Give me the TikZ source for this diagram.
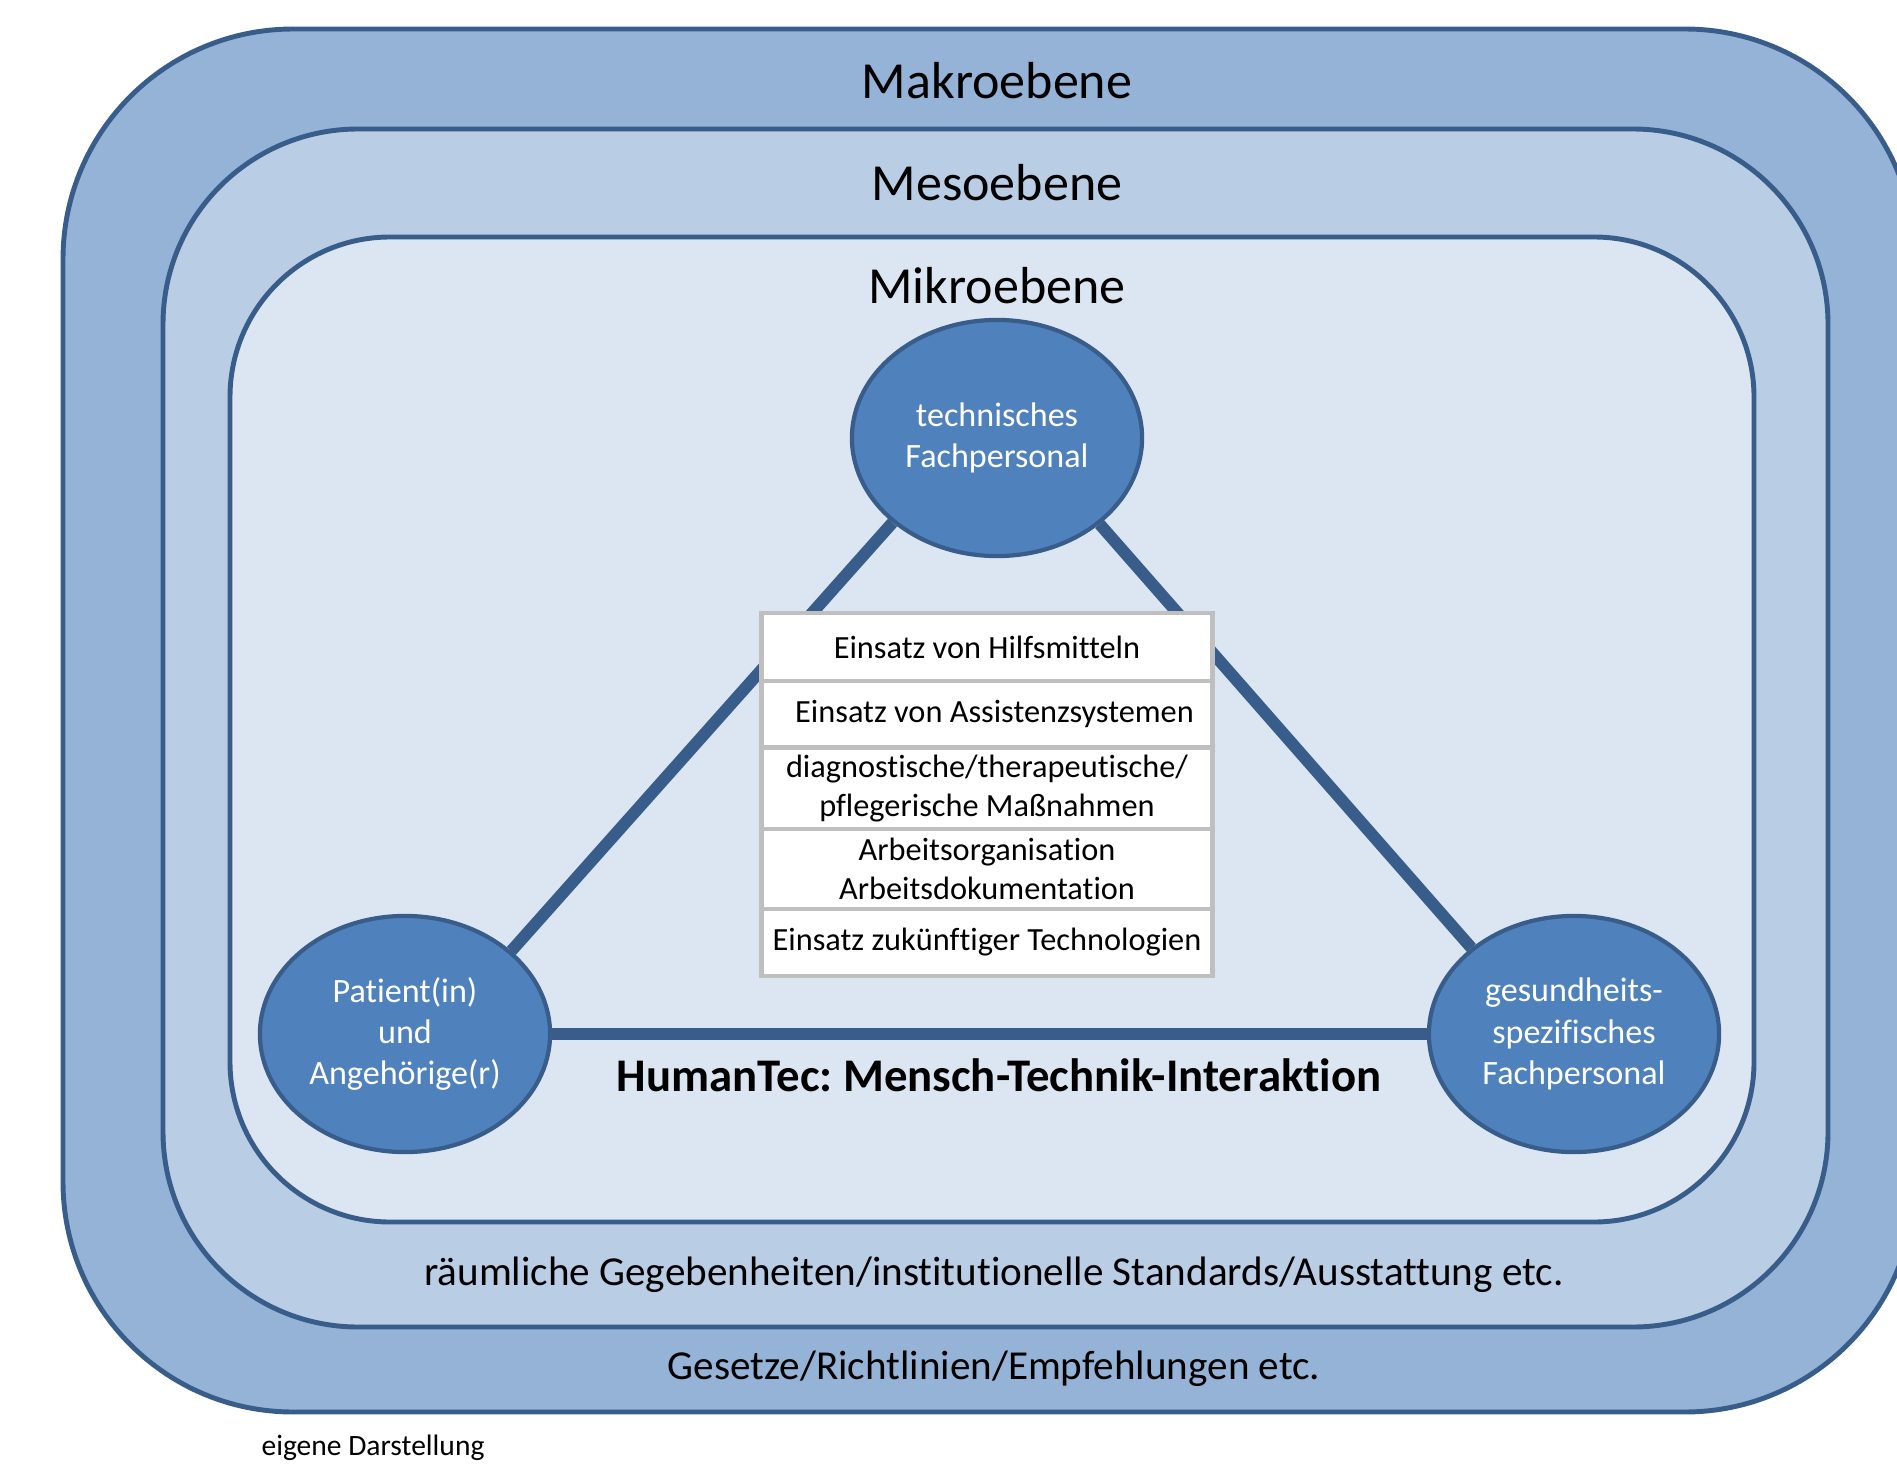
\documentclass[tikz,border=0pt]{standalone}
\usepackage{fontspec}
\setmainfont{Carlito}[Ligatures=NoCommon]
\usetikzlibrary{shapes.geometric}
\frenchspacing

\definecolor{rimblue}{HTML}{385D8A}
\definecolor{makrofill}{HTML}{95B3D7}
\definecolor{mesofill}{HTML}{B9CDE5}
\definecolor{mikrofill}{HTML}{DCE6F2}
\definecolor{actorfill}{HTML}{4F81BD}
\definecolor{rowgray}{HTML}{BFBFBF}

\begin{document}
\begin{tikzpicture}[x=0.01cm, y=-0.01cm,
    level/.style={draw=rimblue, line width=1.4pt},
    actor/.style={ellipse, draw=rimblue, line width=1.2pt, fill=actorfill, text=white,
      minimum width=2.9cm, minimum height=2.36cm, inner sep=0pt, align=center,
      font=\fontsize{9.7}{11.7}\selectfont},
    link/.style={draw=rimblue, line width=3.4pt},
    row/.style={rectangle, draw=rowgray, fill=white, line width=1.4pt, minimum width=4.51cm,
      inner sep=0pt, align=center, font=\fontsize{9.2}{11}\selectfont},
    title/.style={font=\fontsize{14.8}{17}\selectfont},
    note/.style={font=\fontsize{11.7}{14}\selectfont}]
      \useasboundingbox (0,0) rectangle (1897,1467);
      \clip (0,0) rectangle (1897,1467);

      \draw[level, fill=makrofill, rounded corners=2.3cm] (63,29) rectangle (1915,1412);
      \draw[level, fill=mesofill, rounded corners=1.95cm] (163,129) rectangle (1828,1327);
      \draw[level, fill=mikrofill, rounded corners=1.6cm] (230,237) rectangle (1754,1222);

      \node[title](makro) at (997, 81){Makroebene};
      \node[title](meso)  at (997,183){Mesoebene};
      \node[title](mikro) at (997,286){Mikroebene};

      \node[actor](tech)    at ( 997, 438){technisches\\Fachpersonal};
      \node[actor](patient) at ( 405,1034){Patient(in)\\und\\Angehörige(r)};
      \node[actor](health)  at (1574,1034){gesundheits-\\spezifisches\\Fachpersonal};

      \draw[link] (tech.219) -- (patient.38);
      \draw[link] (tech.320) -- (health.140);
      \draw[link] (patient) -- (health);

      \node[row, minimum height=0.68cm](aids)    at (987, 647.0){Einsatz von Hilfsmitteln};
      \node[row, minimum height=0.66cm](assist)  at (987, 714.0){\hspace{0.15cm}Einsatz von Assistenzsystemen};
      \node[row, minimum height=0.81cm](measure) at (987, 788.5){diagnostische/therapeutische/\\pflegerische Maßnahmen};
      \node[row, minimum height=0.80cm](work)    at (987, 869.0){Arbeitsorganisation\\Arbeitsdokumentation};
      \node[row, minimum height=0.67cm](future)  at (987, 942.5){Einsatz zukünftiger Technologien};

      \node[font=\bfseries\fontsize{13.3}{16}\selectfont](humantec) at (999,1075){HumanTec: Mensch-Technik-Interaktion};
      \node[note](space) at (994,1275){räumliche Gegebenheiten/institutionelle Standards/Ausstattung etc.};
      \node[note](law)   at (994,1369){Gesetze/Richtlinien/Empfehlungen etc.};
      \node[font=\fontsize{8.4}{10}\selectfont](source) at (373,1448){eigene Darstellung};
    \end{tikzpicture}
\end{document}
